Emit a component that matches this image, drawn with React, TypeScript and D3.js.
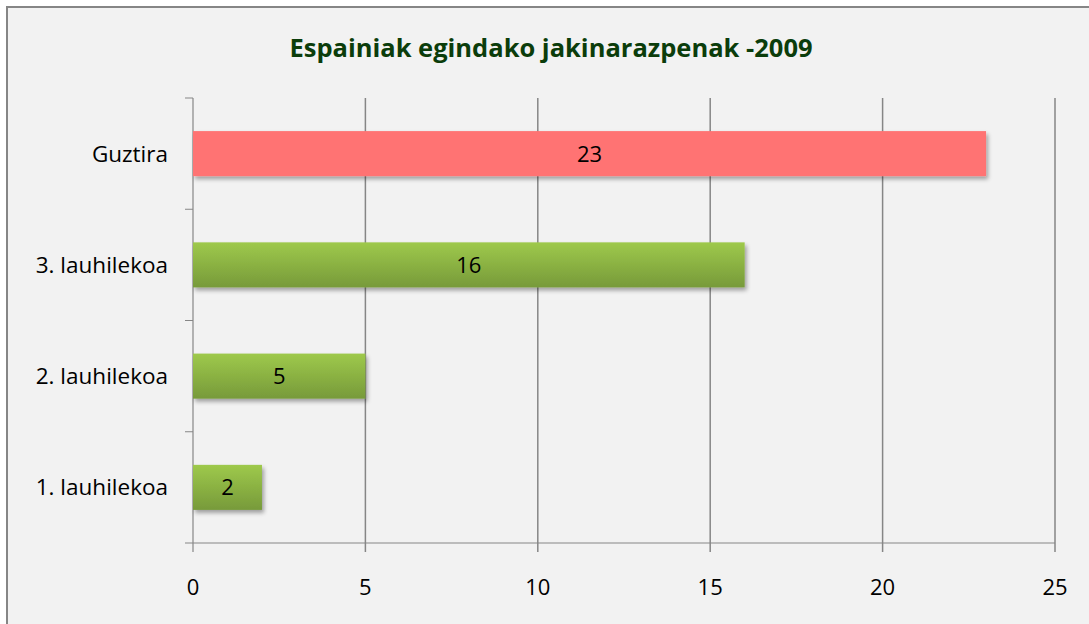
import React from "react";
import * as d3 from "d3";

const categories = ["Guztira", "3. lauhilekoa", "2. lauhilekoa", "1. lauhilekoa"];
const values = [23, 16, 5, 2];
const xTicks = [0, 5, 10, 15, 20, 25];
const title = "Espainiak egindako jakinarazpenak -2009";

const W = 1089;
const H = 624;
const FONT = "'Open Sans', 'Noto Sans', sans-serif";

export default function App() {
  const left = 193, right = 1055, top = 98, bottom = 543;
  const x = d3.scaleLinear().domain([0, 25]).range([left, right]);
  const y = d3.scaleBand<string>().domain(categories).range([top, bottom]).paddingInner(0.595).paddingOuter(0.2975);
  const bands = d3.range(categories.length + 1).map((i) => top + (i * (bottom - top)) / categories.length);
  return (
    <svg width={W} height={H} style={{ position: "absolute", left: 0, top: 0, background: "#fff" }}>
      <defs>
        <linearGradient id="green" x1="0" y1="0" x2="0" y2="1">
          <stop offset="0" stopColor="#9ec94b" />
          <stop offset="1" stopColor="#779a3a" />
        </linearGradient>
        <filter id="sh" x="-10%" y="-20%" width="130%" height="160%">
          <feGaussianBlur in="SourceAlpha" stdDeviation="2" />
          <feOffset dx="2" dy="3" result="b" />
          <feComponentTransfer>
            <feFuncA type="linear" slope="0.35" />
          </feComponentTransfer>
          <feMerge>
            <feMergeNode />
            <feMergeNode in="SourceGraphic" />
          </feMerge>
        </filter>
      </defs>
      <rect x={7} y={7} width={W + 10} height={H + 10} fill="#f2f2f2" stroke="#868686" strokeWidth={2} />
      <text x={551} y={57} textAnchor="middle" fontFamily={FONT} fontWeight="bold" fontSize={25.5} fill="#0b3d0b">
        {title}
      </text>
      {xTicks.map((t) => (
        <g key={t}>
          <line x1={x(t)} x2={x(t)} y1={top} y2={bottom + 9} stroke="#868686" strokeWidth={t === 0 ? 1.2 : 1.5} />
          <text x={x(t)} y={595} textAnchor="middle" fontFamily={FONT} fontSize={22} fill="#000">
            {t}
          </text>
        </g>
      ))}
      {bands.map((b, i) => (
        <line key={i} x1={left - 8} x2={left} y1={b} y2={b} stroke="#868686" strokeWidth={1} />
      ))}
      <line x1={left} x2={right} y1={bottom} y2={bottom} stroke="#868686" strokeWidth={1.2} />
      {categories.map((c, i) => (
        <g key={c}>
          <rect
            x={x(0)}
            y={y(c)!}
            width={x(values[i]) - x(0)}
            height={y.bandwidth()}
            fill={i === 0 ? "#ff7373" : "url(#green)"}
            filter="url(#sh)"
          />
          <text x={168} y={y(c)! + y.bandwidth() / 2 + 8} textAnchor="end" fontFamily={FONT} fontSize={22.5} fill="#000">
            {c}
          </text>
          <text
            x={(x(0) + x(values[i])) / 2}
            y={y(c)! + y.bandwidth() / 2 + 8}
            textAnchor="middle"
            fontFamily={FONT}
            fontSize={22}
            fill="#000"
          >
            {values[i]}
          </text>
        </g>
      ))}
    </svg>
  );
}
